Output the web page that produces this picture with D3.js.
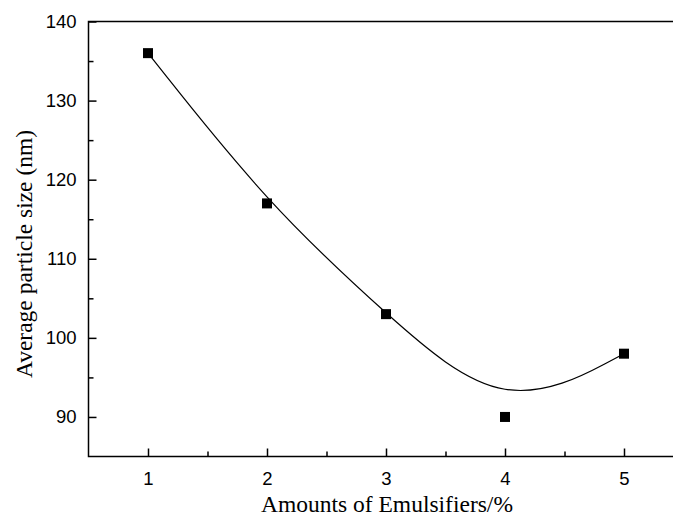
<!DOCTYPE html>
<html>
<head>
<meta charset="utf-8">
<title>Average particle size</title>
<style>
  body { margin: 0; background: #fff; }
  svg { display: block; }
</style>
</head>
<body>
<script src="https://cdn.jsdelivr.net/npm/d3@7/dist/d3.min.js"></script>
<script>
var width = 673, height = 518;
var amounts = [1, 2, 3, 4, 5];
var sizes = [136, 117, 103, 90, 98];
var xTicks = [1, 2, 3, 4, 5];
var yTicks = [90, 100, 110, 120, 130, 140];

var padLeft = 88.5, padTop = 21.5, padBottom = 456.5;
var x = d3.scaleLinear().domain([0.5, 5.5]).range([padLeft, padLeft + 5 * 119]);
var y = d3.scaleLinear().domain([85, 140]).range([padBottom, padTop]);

var svg = d3.select("body").append("svg")
  .attr("width", width).attr("height", height);

// frame (right side falls outside the picture)
svg.append("rect")
  .attr("x", x(0.5)).attr("y", y(140))
  .attr("width", x(5.5) - x(0.5)).attr("height", y(85) - y(140))
  .attr("fill", "none").attr("stroke", "#000").attr("stroke-width", 1.5);

// axes, ticks inside
var xAxis = d3.axisBottom(x).tickValues(xTicks).tickSize(-8).tickPadding(15).tickFormat(d3.format("d"));
var xMinor = d3.axisBottom(x).tickValues([1.5, 2.5, 3.5, 4.5]).tickSize(-5).tickFormat("");
var yAxis = d3.axisLeft(y).tickValues(yTicks).tickSize(-8).tickPadding(12).tickFormat(d3.format("d"));
var yMinor = d3.axisLeft(y).tickValues([95, 105, 115, 125, 135]).tickSize(-5).tickFormat("");

function styleAxis(g) {
  g.select(".domain").remove();
  g.selectAll(".tick line").attr("stroke", "#000").attr("stroke-width", 1.5);
  g.selectAll("text").attr("font-family", "Liberation Sans, Arial, sans-serif")
    .attr("font-size", 18.5).attr("fill", "#000");
}
svg.append("g").attr("transform", "translate(0," + padBottom + ")").call(xAxis).call(styleAxis);
svg.append("g").attr("transform", "translate(0," + padBottom + ")").call(xMinor).call(styleAxis);
svg.append("g").attr("transform", "translate(" + padLeft + ",0)").call(yAxis).call(styleAxis);
svg.append("g").attr("transform", "translate(" + padLeft + ",0)").call(yMinor).call(styleAxis);

// B-spline smooth line
var pts = amounts.map(function(a, i){ return [a, sizes[i]]; });
var line = d3.line()
  .x(function(d){ return x(d[0]); })
  .y(function(d){ return y(d[1]); })
  .curve(d3.curveBasis);
svg.append("path").datum(pts)
  .attr("d", line).attr("fill", "none")
  .attr("stroke", "#000").attr("stroke-width", 1.2);

// square markers
svg.selectAll("rect.pt").data(pts).enter().append("rect")
  .attr("class", "pt")
  .attr("x", function(d){ return x(d[0]) - 5; })
  .attr("y", function(d){ return y(d[1]) - 5; })
  .attr("width", 10).attr("height", 10)
  .attr("fill", "#000");

// axis titles
svg.append("text")
  .attr("x", 387).attr("y", 512)
  .attr("text-anchor", "middle")
  .attr("font-family", "Liberation Serif, Times New Roman, serif")
  .attr("font-size", 23.5)
  .text("Amounts of Emulsifiers/%");
svg.append("text")
  .attr("transform", "translate(32,254) rotate(-90)")
  .attr("text-anchor", "middle")
  .attr("font-family", "Liberation Serif, Times New Roman, serif")
  .attr("font-size", 23.5)
  .text("Average particle size (nm)");
</script>
</body>
</html>
